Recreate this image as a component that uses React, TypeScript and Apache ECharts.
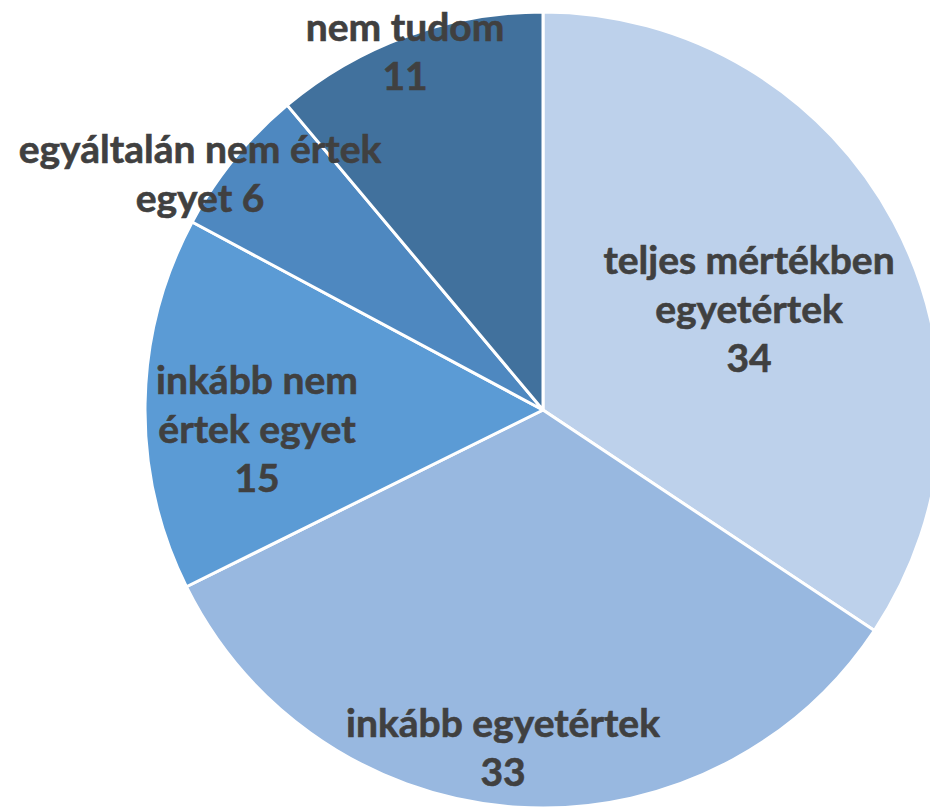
import React, { useEffect, useRef } from "react";
import * as echarts from "echarts";

const categories = [
  "teljes mértékben\negyetértek",
  "inkább egyetértek",
  "inkább nem\nértek egyet",
  "egyáltalán nem értek\negyet",
  "nem tudom",
];
const values = [34, 33, 15, 6, 11];
const valueSeparators = ["\n", "\n", "\n", " ", "\n"];
const colors = ["#BDD1EB", "#98B8E0", "#5B9BD5", "#4E88C0", "#41719D"];

// label centres (layout only)
const labelCenters: [number, number][] = [
  [749, 308],
  [503, 746],
  [257, 428],
  [200, 172],
  [405, 50],
];

export default function App() {
  const ref = useRef<HTMLDivElement>(null);
  useEffect(() => {
    if (!ref.current) return;
    const chart = echarts.init(ref.current, undefined, { renderer: "svg" });
    chart.setOption({
      animation: false,
      backgroundColor: "#ffffff",
      series: [
        {
          type: "pie",
          center: [543, 410],
          radius: 398,
          startAngle: 90,
          clockwise: true,
          avoidLabelOverlap: false,
          itemStyle: { borderColor: "#ffffff", borderWidth: 3 },
          label: {
            show: true,
            position: "inside",
            color: "#404040",
            fontFamily: "Lato",
            fontWeight: "bold",
            fontSize: 39,
            lineHeight: 49,
            align: "center",
            textBorderColor: "#404040",
            textBorderWidth: 0.6,
            formatter: (p: any) =>
              `${p.name}${valueSeparators[p.dataIndex]}${p.value}`,
          },
          labelLine: { show: false },
          labelLayout: (p: any) => ({
            x: labelCenters[p.dataIndex][0],
            y: labelCenters[p.dataIndex][1],
            align: "center",
            verticalAlign: "middle",
          }),
          data: categories.map((c, i) => ({
            name: c,
            value: values[i],
            itemStyle: { color: colors[i] },
          })),
        },
      ],
    });
    return () => chart.dispose();
  }, []);
  return (
    <div
      ref={ref}
      style={{ position: "absolute", left: 0, top: 0, width: 930, height: 810 }}
    />
  );
}
